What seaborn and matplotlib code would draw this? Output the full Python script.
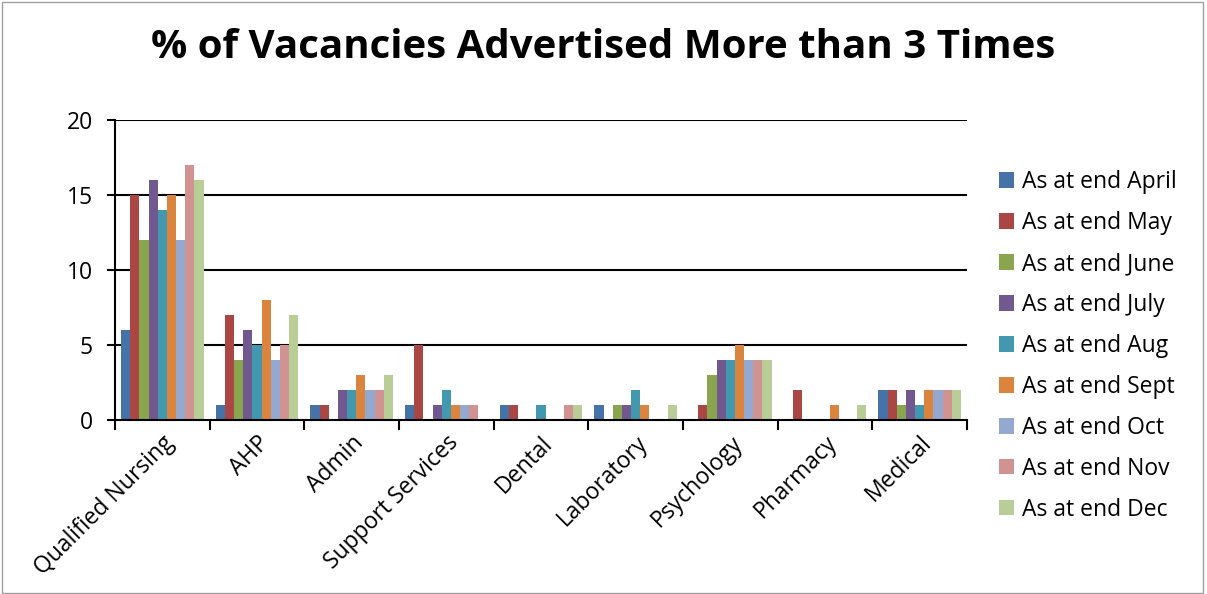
import matplotlib
matplotlib.use("Agg")
import matplotlib.pyplot as plt
import seaborn as sns
import pandas as pd
from matplotlib.patches import Rectangle
from matplotlib.ticker import FixedLocator

categories = ["Qualified Nursing", "AHP", "Admin", "Support Services", "Dental",
              "Laboratory", "Psychology", "Pharmacy", "Medical"]
series_names = ["As at end April", "As at end May", "As at end June", "As at end July",
                "As at end Aug", "As at end Sept", "As at end Oct", "As at end Nov",
                "As at end Dec"]
april = [6, 1, 1, 1, 1, 1, 0, 0, 2]
may = [15, 7, 1, 5, 1, 0, 1, 2, 2]
june = [12, 4, 0, 0, 0, 1, 3, 0, 1]
july = [16, 6, 2, 1, 0, 1, 4, 0, 2]
aug = [14, 5, 2, 2, 1, 2, 4, 0, 1]
sept = [15, 8, 3, 1, 0, 1, 5, 1, 2]
octo = [12, 4, 2, 1, 0, 0, 4, 0, 2]
nov = [17, 5, 2, 1, 1, 0, 4, 0, 2]
dec = [16, 7, 3, 0, 1, 1, 4, 1, 2]
yticks = [0, 5, 10, 15, 20]

colors = ["#4572A7", "#AA4643", "#89A54E", "#71588F", "#4198AF",
          "#DB843D", "#93A9CF", "#D19392", "#B9CD96"]

all_series = [april, may, june, july, aug, sept, octo, nov, dec]
rows = []
for name, vals in zip(series_names, all_series):
    for c, v in zip(categories, vals):
        rows.append({"Category": c, "Series": name, "Value": v})
df = pd.DataFrame(rows)

sns.set_theme(style="white")
plt.rcParams["font.family"] = ["Open Sans", "DejaVu Sans"]
plt.rcParams["text.color"] = "black"
plt.rcParams["xtick.color"] = "black"
plt.rcParams["ytick.color"] = "black"
plt.rcParams["xtick.labelcolor"] = "black"
plt.rcParams["ytick.labelcolor"] = "black"

fig = plt.figure(figsize=(12.07, 5.94), dpi=100)
ax = fig.add_axes([115/1207, 1-420/594, (967-115)/1207, 300/594])

sns.barplot(data=df, x="Category", y="Value", hue="Series", order=categories,
            hue_order=series_names, palette=colors, width=0.87, ax=ax,
            saturation=1, errorbar=None, linewidth=0, legend=True)

ax.set_ylim(0, 20)
ax.set_xlim(-0.5, len(categories) - 0.5)
ax.set_yticks(yticks)
ax.set_yticklabels([str(t) for t in yticks], fontsize=16.5)
for t in yticks[1:]:
    ax.axhline(t, color="black", lw=1.5, zorder=0)
ax.set_xlabel("")
ax.set_ylabel("")
ax.set_xticks(range(len(categories)))
ax.set_xticklabels(categories, rotation=45, ha="right", rotation_mode="anchor", fontsize=16.5)
ax.tick_params(axis="x", which="major", length=0, pad=8)
ax.xaxis.set_minor_locator(FixedLocator([i - 0.5 for i in range(len(categories) + 1)]))
ax.tick_params(axis="x", which="minor", length=7, width=1.5, color="black", direction="out", bottom=True)
ax.tick_params(axis="y", length=6, width=1.5, color="black", direction="out", left=True, pad=10)
for s in ["top", "right"]:
    ax.spines[s].set_visible(False)
for s in ["left", "bottom"]:
    ax.spines[s].set_color("black")
    ax.spines[s].set_linewidth(1.5)

handles, labels = ax.get_legend_handles_labels()
ax.legend(handles, labels, loc="center left", bbox_to_anchor=(990/1207, 1-346/594),
          bbox_transform=fig.transFigure, frameon=False, fontsize=16.5,
          handlelength=0.65, handleheight=0.65, handletextpad=0.35, labelspacing=0.74,
          borderaxespad=0)

fig.text(0.5, 1-48/594, "% of Vacancies Advertised More than 3 Times", ha="center", va="center",
         fontsize=29, fontweight="bold", color="black")

fig.patches.append(Rectangle((0.002, 0.002), 0.995, 0.995, transform=fig.transFigure,
                             fill=False, edgecolor="#A0A0A0", lw=1))

fig.savefig("out.png", dpi=100)
